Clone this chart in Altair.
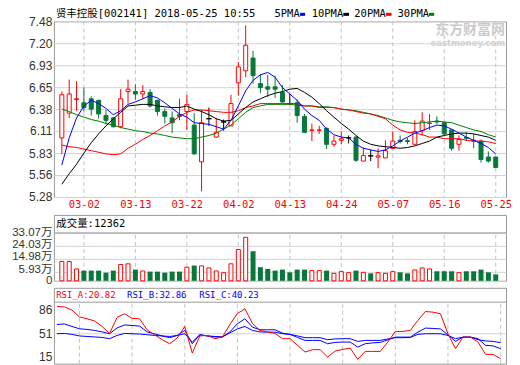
import altair as alt
import numpy as np
import pandas as pd

# ---------------- data ----------------
dates = ["02-27", "02-28", "03-01", "03-02", "03-05", "03-06", "03-07", "03-08", "03-09", "03-12",
         "03-13", "03-14", "03-15", "03-16", "03-19", "03-20", "03-21", "03-22", "03-23", "03-26",
         "03-27", "03-28", "03-29", "03-30", "04-02", "04-03", "04-04", "04-09", "04-10", "04-11",
         "04-12", "04-13", "04-16", "04-17", "04-18", "04-19", "04-20", "04-23", "04-24", "04-25",
         "04-26", "04-27", "05-02", "05-03", "05-04", "05-07", "05-08", "05-09", "05-10", "05-11",
         "05-14", "05-15", "05-16", "05-17", "05-18", "05-21", "05-22", "05-23", "05-24", "05-25"]

open_ = [6.02, 6.33, 6.50, 6.46, 6.51, 6.49, 6.30, 6.27, 6.16, 6.60,
         6.60, 6.57, 6.59, 6.49, 6.35, 6.27, 6.31, 6.35, 6.18, 5.72,
         6.26, 6.03, 6.22, 6.17, 6.71, 6.86, 7.02, 6.70, 6.66, 6.66,
         6.59, 6.45, 6.46, 6.29, 6.115, 6.115, 6.14, 5.94, 5.99, 6.02,
         6.03, 5.73, 5.795, 5.78, 5.77, 5.89, 5.99, 5.985, 5.94, 6.11,
         6.20, 6.23, 6.21, 6.12, 5.94, 6.025, 5.99, 5.98, 5.78, 5.78]
high = [6.60, 6.75, 6.73, 6.65, 6.54, 6.50, 6.37, 6.28, 6.63, 6.75,
        6.69, 6.68, 6.63, 6.50, 6.39, 6.35, 6.51, 6.56, 6.33, 6.37,
        6.40, 6.27, 6.25, 6.56, 6.97, 7.43, 7.11, 6.82, 6.81, 6.80,
        6.68, 6.57, 6.50, 6.32, 6.20, 6.17, 6.15, 6.05, 6.10, 6.05,
        6.04, 5.90, 5.87, 5.89, 5.99, 6.10, 6.05, 6.02, 6.24, 6.34,
        6.32, 6.29, 6.22, 6.12, 6.05, 6.09, 6.07, 6.00, 5.85, 5.78]
low = [5.82, 6.27, 6.36, 6.35, 6.30, 6.26, 6.19, 6.15, 6.14, 6.45,
       6.50, 6.51, 6.40, 6.30, 6.20, 6.08, 6.24, 6.12, 5.81, 5.35,
       6.17, 6.02, 6.11, 6.17, 6.55, 6.78, 6.70, 6.58, 6.53, 6.52,
       6.46, 6.43, 6.21, 6.08, 5.98, 6.07, 5.88, 5.91, 5.94, 5.95,
       5.72, 5.73, 5.73, 5.64, 5.77, 5.88, 5.95, 5.94, 5.94, 6.05,
       6.12, 6.19, 6.05, 5.86, 5.86, 5.98, 5.89, 5.71, 5.71, 5.64]
close = [6.56, 6.57, 6.51, 6.40, 6.38, 6.32, 6.24, 6.16, 6.51, 6.63,
         6.57, 6.60, 6.42, 6.35, 6.29, 6.21, 6.29, 6.44, 5.82, 6.21,
         6.26, 6.09, 6.22, 6.45, 6.91, 7.18, 6.80, 6.65, 6.63, 6.63,
         6.47, 6.45, 6.30, 6.09, 6.12, 6.12, 5.94, 5.98, 6.01, 6.02,
         5.74, 5.80, 5.795, 5.795, 5.86, 5.98, 5.975, 5.975, 6.10, 6.23,
         6.205, 6.22, 6.07, 5.89, 6.00, 6.015, 5.98, 5.75, 5.73, 5.65]

# volume in 万
volume = [13.37, 13.37, 8.21, 7.04, 7.04, 7.04, 5.63, 7.04, 11.26, 11.73,
          7.74, 6.80, 6.33, 6.33, 5.63, 6.33, 6.33, 9.38, 10.55, 10.32,
          8.91, 6.80, 5.63, 11.73, 21.58, 30.02, 20.40, 9.38, 8.21, 7.04,
          7.74, 5.86, 7.74, 7.74, 7.04, 7.04, 7.04, 5.16, 6.33, 5.63,
          7.04, 5.86, 5.16, 5.63, 5.16, 6.33, 5.86, 5.16, 7.50, 8.91,
          8.21, 6.57, 6.57, 6.57, 5.63, 6.57, 6.57, 7.74, 5.86, 4.46]

ma5 = [5.68, 6.02, 6.27, 6.42, 6.49, 6.45, 6.39, 6.31, 6.36, 6.44,
       6.47, 6.51, 6.55, 6.52, 6.46, 6.39, 6.32, 6.28, 6.21, 6.20,
       6.19, 6.16, 6.13, 6.24, 6.42, 6.61, 6.74, 6.81, 6.84, 6.78,
       6.65, 6.57, 6.49, 6.38, 6.30, 6.24, 6.13, 6.06, 6.03, 6.02,
       5.94, 5.89, 5.87, 5.85, 5.87, 5.92, 5.98, 6.03, 6.08, 6.11,
       6.15, 6.18, 6.17, 6.13, 6.08, 6.03, 5.99, 5.95, 5.90, 5.82]
ma10 = [5.44, 5.57, 5.69, 5.83, 5.96, 6.07, 6.17, 6.26, 6.34, 6.42,
        6.43, 6.44, 6.44, 6.42, 6.41, 6.40, 6.40, 6.42, 6.38, 6.35,
        6.31, 6.26, 6.23, 6.24, 6.32, 6.40, 6.47, 6.51, 6.55, 6.58,
        6.60, 6.63, 6.64, 6.59, 6.53, 6.45, 6.36, 6.28, 6.20, 6.13,
        6.05, 5.98, 5.94, 5.92, 5.91, 5.90, 5.89, 5.90, 5.92, 5.95,
        5.98, 6.03, 6.05, 6.07, 6.08, 6.08, 6.07, 6.05, 6.03, 5.99]
ma20 = [5.93, 5.91, 5.90, 5.88, 5.86, 5.84, 5.82, 5.81, 5.82, 5.89,
        5.94, 6.00, 6.05, 6.11, 6.17, 6.22, 6.29, 6.34, 6.37, 6.37,
        6.36, 6.35, 6.34, 6.34, 6.36, 6.40, 6.42, 6.45, 6.45, 6.45,
        6.45, 6.45, 6.45, 6.42, 6.42, 6.40, 6.40, 6.40, 6.38, 6.37,
        6.35, 6.33, 6.32, 6.29, 6.26, 6.18, 6.12, 6.09, 6.08, 6.06,
        6.03, 6.03, 6.01, 6.01, 6.01, 5.99, 5.98, 5.98, 5.97, 5.95]
ma30 = [6.38, 6.35, 6.31, 6.28, 6.25, 6.23, 6.20, 6.18, 6.15, 6.13,
        6.11, 6.10, 6.08, 6.07, 6.05, 6.03, 6.02, 6.01, 6.01, 6.03,
        6.05, 6.08, 6.13, 6.18, 6.26, 6.34, 6.40, 6.42, 6.44, 6.44,
        6.44, 6.44, 6.43, 6.42, 6.42, 6.41, 6.41, 6.40, 6.38, 6.37,
        6.36, 6.34, 6.32, 6.30, 6.27, 6.24, 6.22, 6.21, 6.20, 6.21,
        6.22, 6.23, 6.22, 6.21, 6.18, 6.15, 6.12, 6.10, 6.06, 6.03]

rsi_a = [84.0, 83.4, 79.7, 71.3, 69.1, 66.5, 59.8, 51.4, 70.7, 75.2,
         69.5, 69.1, 55.6, 49.6, 43.8, 38.9, 45.9, 59.8, 27.6, 48.3,
         48.9, 45.0, 46.9, 62.2, 75.5, 81.2, 63.4, 55.0, 53.2, 51.4,
         45.0, 45.0, 36.9, 28.8, 31.7, 31.7, 22.7, 30.0, 32.0, 33.6,
         20.0, 29.6, 29.6, 29.6, 40.9, 53.8, 53.8, 55.0, 67.1, 77.9,
         77.1, 75.2, 51.0, 32.9, 46.9, 46.9, 40.9, 26.0, 26.0, 20.82]
rsi_b = [62.2, 62.8, 59.8, 57.0, 56.2, 55.0, 53.2, 51.0, 58.0, 61.6,
         61.0, 60.2, 53.2, 50.8, 48.3, 46.2, 48.9, 55.0, 38.9, 49.8,
         48.3, 47.1, 47.1, 53.2, 63.1, 69.1, 59.0, 55.8, 55.8, 55.8,
         51.7, 50.2, 46.5, 42.9, 42.9, 42.9, 38.9, 40.5, 40.9, 40.9,
         34.8, 38.9, 39.9, 40.5, 43.5, 46.9, 46.9, 46.9, 52.9, 57.8,
         57.4, 56.8, 49.6, 41.7, 46.9, 46.9, 45.0, 36.9, 36.3, 32.86]
rsi_c = [51.0, 51.4, 50.2, 48.3, 47.7, 47.1, 46.5, 45.0, 48.9, 51.4,
         51.0, 50.6, 49.8, 48.9, 48.3, 47.7, 48.9, 51.0, 40.9, 49.8,
         48.3, 47.7, 47.1, 52.0, 56.8, 59.8, 55.0, 53.2, 52.9, 52.9,
         51.0, 50.2, 48.3, 46.2, 46.2, 46.2, 43.8, 44.7, 45.0, 45.0,
         41.7, 42.9, 42.9, 42.9, 44.7, 46.2, 46.2, 46.5, 50.2, 51.0,
         51.0, 51.0, 48.9, 45.0, 46.9, 46.9, 43.8, 42.3, 41.7, 40.23]

label_dates = ["03-02", "03-13", "03-22", "04-02", "04-13", "04-24", "05-07", "05-16", "05-25"]
price_ticks = [5.28, 5.56, 5.83, 6.11, 6.38, 6.65, 6.93, 7.20, 7.48]
vol_ticks = [0, 5.93, 14.98, 24.03, 33.07]
rsi_ticks = [15, 51, 86]

title_text = "贤丰控股[002141] 2018-05-25 10:55"
vol_title = "成交量:12362"
rsi_titles = ["RSI_A:20.82", "RSI_B:32.86", "RSI_C:40.23"]
ma_names = ["5PMA", "10PMA", "20PMA", "30PMA"]

# ---------------- styles ----------------
RED = "#ff0000"
GREEN = "#08773a"
BLACK = "#000000"
BLUE = "#0000ff"
MAGREEN = "#008000"
GRID = "#d4d4d4"
VGRID = "#c4c4c4"
BORDER = "#9a9a9a"
MONO = "DejaVu Sans Mono, Noto Sans CJK SC"
YFONT = "Liberation Sans, Noto Sans CJK SC"

n = len(dates)
df = pd.DataFrame({"idx": range(n), "date": dates, "open": open_, "high": high,
                   "low": low, "close": close, "volume": volume})
o = df["open"].to_numpy()
c = df["close"].to_numpy()
prev_c = df["close"].shift(1).fillna(df["open"]).to_numpy()
df["cdir"] = np.where(c > o, "up", np.where(c < o, "down", "flat"))
df["vdir"] = np.where(c > o, "up", np.where(c < o, "down", np.where(c >= prev_c, "up", "down")))
df["ccol"] = df["cdir"].map({"up": RED, "down": GREEN, "flat": BLACK})

ma_cols = {"5PMA": BLUE, "10PMA": BLACK, "20PMA": RED, "30PMA": MAGREEN}
ma_df = pd.concat([
    pd.DataFrame({"idx": range(n), "price": vals, "series": name, "col": ma_cols[name]})
    for name, vals in [("30PMA", ma30), ("20PMA", ma20), ("10PMA", ma10), ("5PMA", ma5)]
])
rsi_df = pd.concat([
    pd.DataFrame({"idx": range(n), "rsi": vals, "series": name, "col": col})
    for name, vals, col in [("C", rsi_c, BLUE), ("B", rsi_b, BLUE), ("A", rsi_a, RED)]
])

label_idx = [dates.index(d) for d in label_dates]
tick_df = pd.DataFrame({"idx": label_idx, "v0": 0.0, "v1": 33.07, "r0": 14.77, "r1": 89.2})

# ---------------- scales / axes ----------------
XS = alt.Scale(domain=[-0.4, 59.72], nice=False, zero=False)
label_expr = "[" + ",".join("'%s'" % d for d in dates) + "][datum.value]"
x_axis_main = alt.Axis(values=label_idx, labelExpr=label_expr, grid=False, ticks=False,
                       domain=False, labelColor=RED, labelFont="DejaVu Sans Mono",
                       labelFontSize=10.5, labelPadding=3, labelFlush=False,
                       labelOverlap=False, title=None)


def XM():
    return alt.X("idx:Q", scale=XS, axis=x_axis_main)


def XN():
    return alt.X("idx:Q", scale=XS, axis=None)


def yaxis(values, size=12, **kw):
    return alt.Axis(values=values, ticks=False, domain=False, labelPadding=2,
                    labelFont=YFONT, labelFontSize=size, labelColor="#333333",
                    labelOverlap=False, title=None, **kw)


PS = alt.Scale(domain=[5.28, 7.48], nice=False, zero=False)
p_axis = yaxis(price_ticks, format=".2f", grid=True, gridColor=GRID)
VS = alt.Scale(domain=[0, 45.47], nice=False, zero=False)
v_axis = yaxis(vol_ticks, size=11.5,
               labelExpr="datum.value == 0 ? '0' : format(datum.value, '.2f') + '万'",
               grid=True, gridColor=GRID,
               labelOffset={"condition": [
                   {"test": "datum.value > 30", "value": 0},
                   {"test": "datum.value > 20", "value": -1.5},
                   {"test": "datum.value > 10", "value": -2.5},
                   {"test": "datum.value > 1", "value": -3}], "value": 0})
RS = alt.Scale(domain=[14.77, 106.6], nice=False, zero=False)
r_axis = yaxis(rsi_ticks, grid=False, labelFlush=20)


def PY(f):
    return alt.Y(f + ":Q", scale=PS, axis=p_axis)


def VY(f):
    return alt.Y(f + ":Q", scale=VS, axis=v_axis)


def RY(f):
    return alt.Y(f + ":Q", scale=RS, axis=r_axis)


def label(text, x, y, color=BLACK, size=10.5, font=MONO, align="left", weight="normal"):
    return alt.Chart(pd.DataFrame({"t": [text]})).mark_text(
        align=align, baseline="middle", font=font, fontSize=size, color=color,
        fontWeight=weight).encode(x=alt.value(x), y=alt.value(y), text="t:N")


def swatch(x1, x2, y, color):
    return alt.Chart(pd.DataFrame({"a": [0]})).mark_rule(color=color, strokeWidth=3).encode(
        x=alt.value(x1), x2=alt.value(x2), y=alt.value(y))


W = 453

# ---------------- main candlestick panel ----------------
vgrid = alt.Chart(tick_df).mark_rule(color=VGRID, strokeDash=[4, 3]).encode(x=XM())
wicks = alt.Chart(df).mark_rule(strokeWidth=1).encode(
    x=XM(), y=PY("low"), y2="high:Q", color=alt.Color("ccol:N", scale=None))
up_body = alt.Chart(df).transform_filter("datum.cdir == 'up'").mark_bar(
    size=4, fill="white", stroke=RED, strokeWidth=1).encode(x=XM(), y=PY("open"), y2="close:Q")
down_body = alt.Chart(df).transform_filter("datum.cdir == 'down'").mark_bar(
    size=4, fill=GREEN, stroke=GREEN, strokeWidth=1).encode(x=XM(), y=PY("open"), y2="close:Q")
flat_body = alt.Chart(df).transform_filter("datum.cdir == 'flat'").mark_bar(
    size=5, fill=BLACK, stroke=BLACK, strokeWidth=1).encode(x=XM(), y=PY("open"), y2="close:Q")
ma_lines = alt.Chart(ma_df).mark_line(strokeWidth=1).encode(
    x=XM(), y=PY("price"), color=alt.Color("col:N", scale=None), detail="series:N")

watermark = [
    label("东方财富网", 452, 9, color="#cbcbcb", size=14, font="Noto Sans CJK SC",
          align="right", weight="bold"),
    label("eastmoney.com", 452, 21.5, color="#d2d2d2", size=8.5, font="DejaVu Sans",
          align="right", weight="bold"),
]
head = [label(title_text, 2, -7)]
leg_pos = [(221, 246.7, 251.7), (258.3, 290, 295.7), (301, 332.7, 338.3), (344.3, 375.7, 381)]
for name, (lx, s1, s2) in zip(ma_names, leg_pos):
    head.append(label(name, lx, -7))
    head.append(swatch(s1, s2, -7, ma_cols[name]))
spacer = alt.Chart(pd.DataFrame({"a": [0]})).mark_rule(color="white").encode(
    x=alt.value(-40), y=alt.value(183), y2=alt.value(192))

main = alt.layer(vgrid, *watermark, wicks, up_body, down_body, flat_body, ma_lines,
                 *head, spacer).properties(width=W, height=176)

# ---------------- volume panel ----------------
v_vgrid = alt.Chart(tick_df).mark_rule(color=VGRID, strokeDash=[4, 3]).encode(
    x=XN(), y=VY("v0"), y2="v1:Q")
v_up = alt.Chart(df).transform_filter("datum.vdir == 'up'").mark_bar(
    size=4, fill="white", stroke=RED, strokeWidth=1).encode(x=XN(), y=VY("volume"), y2=alt.datum(0))
v_down = alt.Chart(df).transform_filter("datum.vdir == 'down'").mark_bar(
    size=5, fill=GREEN).encode(x=XN(), y=VY("volume"), y2=alt.datum(0))
v_sep = alt.Chart(pd.DataFrame({"volume": [33.07]})).mark_rule(color=BORDER).encode(y=VY("volume"))
vol = alt.layer(v_vgrid, v_down, v_up, v_sep, label(vol_title, 2.3, 9)).properties(width=W, height=66)

# ---------------- RSI panel ----------------
r_vgrid = alt.Chart(tick_df).mark_rule(color=VGRID, strokeDash=[4, 3]).encode(
    x=XN(), y=RY("r0"), y2="r1:Q")
r_mid = alt.Chart(pd.DataFrame({"rsi": [51]})).mark_rule(color=GRID).encode(y=RY("rsi"))
r_sep = alt.Chart(pd.DataFrame({"rsi": [89.2]})).mark_rule(color=BORDER).encode(y=RY("rsi"))
r_lines = alt.Chart(rsi_df).mark_line(strokeWidth=1).encode(
    x=XN(), y=RY("rsi"), color=alt.Color("col:N", scale=None), detail="series:N")
r_titles = [label(rsi_titles[0], 2.3, 7.7, color=RED, size=9, font="DejaVu Sans Mono"),
            label(rsi_titles[1], 73.3, 7.7, color=BLUE, size=9, font="DejaVu Sans Mono"),
            label(rsi_titles[2], 145.7, 7.7, color=BLUE, size=9, font="DejaVu Sans Mono")]
rsi = alt.layer(r_vgrid, r_mid, r_sep, r_lines, *r_titles).properties(width=W, height=76)

chart = alt.vconcat(main, vol, rsi, spacing=0).properties(
    padding={"left": 3, "top": 0, "right": 0, "bottom": 0}, background="white"
).configure_view(stroke=BORDER, strokeWidth=1)

chart.save("out.html", embed_options={"renderer": "svg", "actions": False})
